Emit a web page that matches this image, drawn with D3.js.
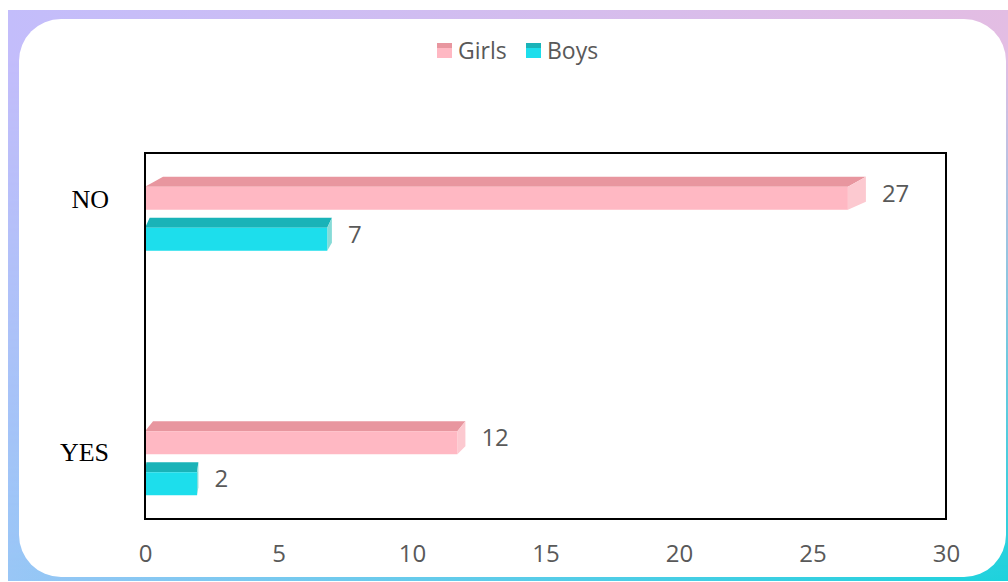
<!DOCTYPE html>
<html><head><meta charset="utf-8">
<script src="https://cdn.jsdelivr.net/npm/d3@7"></script>
<style>html,body{margin:0;padding:0;background:#fff;overflow:hidden}</style>
</head><body>
<script>
const categories = ["NO", "YES"];
const seriesNames = ["Girls", "Boys"];
const girlsValues = [27, 12];
const boysValues = [7, 2];
const xTicks = [0, 5, 10, 15, 20, 25, 30];

const W = 1008, H = 582;
const svg = d3.select("body").append("svg").attr("width", W).attr("height", H);
const defs = svg.append("defs");

const gTop = defs.append("linearGradient").attr("id","gTop").attr("x1","0").attr("x2","1").attr("y1","0").attr("y2","0");
gTop.append("stop").attr("offset","0").attr("stop-color","#c3bdfb");
gTop.append("stop").attr("offset","1").attr("stop-color","#e3bde3");
const gBot = defs.append("linearGradient").attr("id","gBot").attr("x1","0").attr("x2","1").attr("y1","0").attr("y2","0");
gBot.append("stop").attr("offset","0").attr("stop-color","#98c6f6");
gBot.append("stop").attr("offset","1").attr("stop-color","#1cd2dc");
const gMask = defs.append("linearGradient").attr("id","gMask").attr("x1","0").attr("x2","0").attr("y1","0").attr("y2","1");
gMask.append("stop").attr("offset","0.1").attr("stop-color","#fff").attr("stop-opacity",0);
gMask.append("stop").attr("offset","1").attr("stop-color","#fff").attr("stop-opacity",1);
defs.append("mask").attr("id","mBot").append("rect").attr("x",0).attr("y",0).attr("width",W).attr("height",H).attr("fill","url(#gMask)");

svg.append("rect").attr("x",8).attr("y",10).attr("width",W-8).attr("height",571).attr("fill","url(#gTop)");
svg.append("rect").attr("x",8).attr("y",10).attr("width",W-8).attr("height",571).attr("fill","url(#gBot)").attr("mask","url(#mBot)");
svg.append("rect").attr("x",19).attr("y",19).attr("width",987).attr("height",558).attr("rx",42).attr("ry",42).attr("fill","#fff");

const plot = {l:145, r:946, t:153, b:519};
const x = d3.scaleLinear().domain([0,30]).range([plot.l, plot.r]);
const y = d3.scalePoint().domain(categories).range([plot.t, plot.b]).padding(0.2485);
const yLab = d3.scalePoint().domain(categories).range([plot.t, plot.b]).padding(0.2234);
const yi = d3.scaleBand().domain(seriesNames).range([-37, 37]).paddingInner(0.195).paddingOuter(0);

const colors = {
  Girls: {front:"#ffb8c3", top:"#e8969f", side:"#fcc9d0"},
  Boys:  {front:"#1ddeec", top:"#1ab3b8", side:"#86dbd7"}
};

svg.append("rect").attr("x",plot.l).attr("y",plot.t).attr("width",plot.r-plot.l).attr("height",plot.b-plot.t)
  .attr("fill","none").attr("stroke","#000").attr("stroke-width",2);

const data = [];
categories.forEach((c,i)=>{
  data.push({cat:c, s:"Girls", v:girlsValues[i]});
  data.push({cat:c, s:"Boys", v:boysValues[i]});
});

const depthY = 10;
const g = svg.append("g");
data.forEach(d=>{
  const x0 = x(0), x1 = x(d.v);
  const dx = 0.025*(x1-x0);
  const yTop = y(d.cat) + yi(d.s);
  const yFront = yTop + depthY;
  const yBot = yTop + yi.bandwidth();
  const col = colors[d.s];
  g.append("path").attr("d", `M${x0},${yFront} L${x0+dx},${yTop} L${x1},${yTop} L${x1-dx},${yFront} Z`).attr("fill",col.top);
  g.append("path").attr("d", `M${x1-dx},${yFront} L${x1},${yTop} L${x1},${yBot-depthY*0.8} L${x1-dx},${yBot} Z`).attr("fill",col.side);
  g.append("rect").attr("x",x0).attr("y",yFront).attr("width",x1-dx-x0).attr("height",yBot-yFront).attr("fill",col.front);
  g.append("text").attr("x",x1+16).attr("y",(yTop+yBot)/2).attr("dy","0.36em")
    .attr("font-family","'Open Sans', sans-serif").attr("font-size",24).attr("fill","#595959").text(d.v);
});

svg.append("line").attr("x1",plot.l).attr("x2",plot.l).attr("y1",plot.t).attr("y2",plot.b).attr("stroke","#000").attr("stroke-width",2);

svg.append("g").selectAll("text").data(categories).join("text")
  .attr("x",109).attr("y",c=>yLab(c)-1.5)
  .attr("text-anchor","end").attr("font-family","'Liberation Serif','Times New Roman',serif")
  .attr("font-size",26).attr("fill","#000").text(c=>c);

const xAxis = d3.axisBottom(x).tickValues(xTicks).tickSize(0).tickPadding(0);
const ax = svg.append("g").attr("transform",`translate(0,${553})`).call(xAxis);
ax.select(".domain").remove();
ax.selectAll("text").attr("font-family","'Open Sans', sans-serif").attr("font-size",24).attr("fill","#595959").attr("dy","0.36em").attr("y",0);

const legend = svg.append("g");
const legX = [437, 526];
seriesNames.forEach((s,i)=>{
  const lg = legend.append("g").attr("transform",`translate(${legX[i]},43)`);
  lg.append("rect").attr("width",15).attr("height",15).attr("fill",colors[s].front);
  lg.append("rect").attr("width",15).attr("height",5).attr("fill",colors[s].top);
  lg.append("text").attr("x",21).attr("y",7.5).attr("dy","0.36em")
    .attr("font-family","'Open Sans', sans-serif").attr("font-size",23).attr("fill","#595959").text(s);
});
</script>
</body></html>
